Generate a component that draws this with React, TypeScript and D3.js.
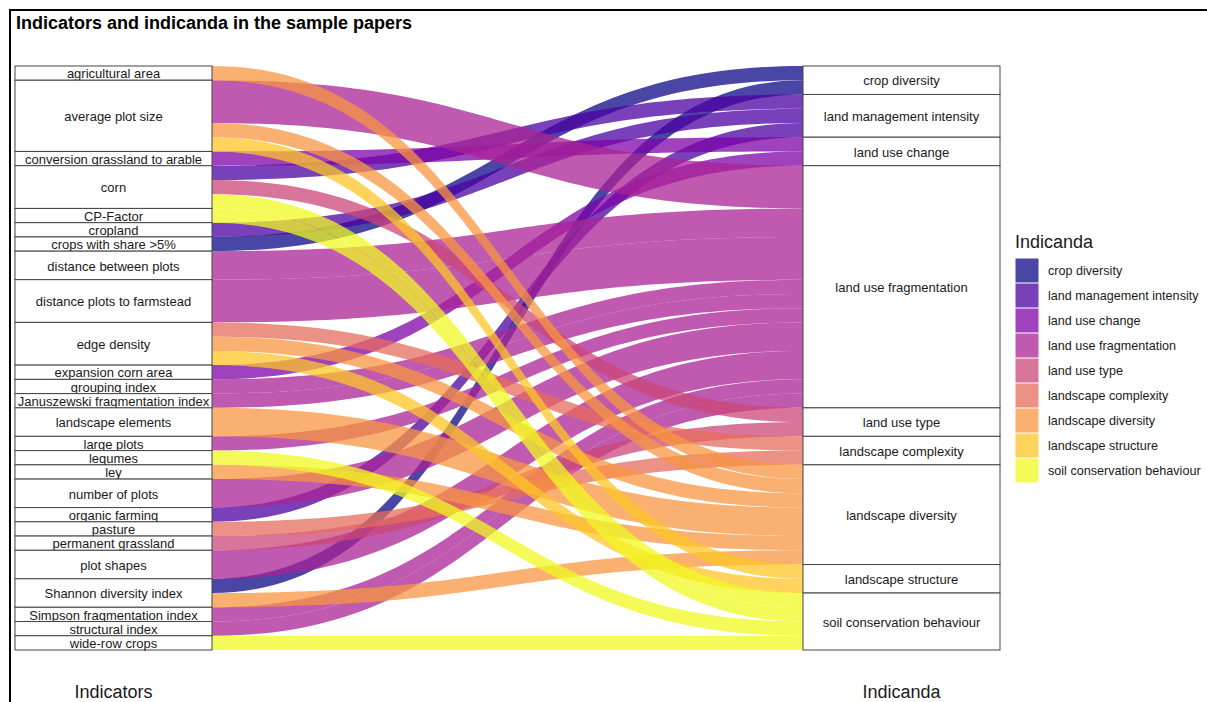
import React from "react";
import * as d3 from "d3";

const indicators = [
  "agricultural area",
  "average plot size",
  "conversion grassland to arable",
  "corn",
  "CP-Factor",
  "cropland",
  "crops with share >5%",
  "distance between plots",
  "distance plots to farmstead",
  "edge density",
  "expansion corn area",
  "grouping index",
  "Januszewski fragmentation index",
  "landscape elements",
  "large plots",
  "legumes",
  "ley",
  "number of plots",
  "organic farming",
  "pasture",
  "permanent grassland",
  "plot shapes",
  "Shannon diversity index",
  "Simpson fragmentation index",
  "structural index",
  "wide-row crops",
];

const indicanda = [
  "crop diversity",
  "land management intensity",
  "land use change",
  "land use fragmentation",
  "land use type",
  "landscape complexity",
  "landscape diversity",
  "landscape structure",
  "soil conservation behaviour",
];

const flowFrom = [
  "agricultural area",
  "average plot size",
  "average plot size",
  "average plot size",
  "conversion grassland to arable",
  "corn",
  "corn",
  "corn",
  "CP-Factor",
  "cropland",
  "crops with share >5%",
  "distance between plots",
  "distance plots to farmstead",
  "edge density",
  "edge density",
  "edge density",
  "expansion corn area",
  "grouping index",
  "Januszewski fragmentation index",
  "landscape elements",
  "large plots",
  "legumes",
  "ley",
  "number of plots",
  "organic farming",
  "pasture",
  "permanent grassland",
  "plot shapes",
  "Shannon diversity index",
  "Shannon diversity index",
  "Simpson fragmentation index",
  "structural index",
  "wide-row crops",
];

const flowTo = [
  "landscape diversity",
  "land use fragmentation",
  "landscape diversity",
  "landscape structure",
  "land use change",
  "land management intensity",
  "land use type",
  "soil conservation behaviour",
  "soil conservation behaviour",
  "land management intensity",
  "crop diversity",
  "land use fragmentation",
  "land use fragmentation",
  "landscape complexity",
  "landscape diversity",
  "landscape structure",
  "land use change",
  "land use fragmentation",
  "land use fragmentation",
  "landscape diversity",
  "land use fragmentation",
  "soil conservation behaviour",
  "landscape diversity",
  "land use fragmentation",
  "land management intensity",
  "landscape complexity",
  "land use type",
  "land use fragmentation",
  "crop diversity",
  "landscape diversity",
  "land use fragmentation",
  "land use fragmentation",
  "soil conservation behaviour",
];

const flowCount = [
  1, 3, 1, 1, 1, 1, 1, 1, 1, 1, 1, 2, 3, 1, 1, 1, 1, 1, 1, 2, 1, 1, 1, 2, 1, 1,
  1, 2, 1, 1, 1, 1, 1,
];

const FONT = "'Liberation Sans', Arial, Helvetica, sans-serif";

export default function App() {
  const W = 1207;
  const H = 702;
  const top = 66;
  const bottom = 650;
  const leftX0 = 15;
  const leftX1 = 212;
  const rightX0 = 803;
  const rightX1 = 1000;

  const flows = flowFrom.map((f, i) => ({
    from: f,
    to: flowTo[i],
    n: flowCount[i],
    fi: indicators.indexOf(f),
    ti: indicanda.indexOf(flowTo[i]),
  }));
  const total = d3.sum(flows, (d) => d.n);

  const y = d3.scaleLinear().domain([0, total]).range([top, bottom]);
  const color = d3
    .scaleOrdinal<string, string>()
    .domain(indicanda)
    .range(d3.quantize(d3.interpolatePlasma, indicanda.length));

  const leftTotals = indicators.map((name) =>
    d3.sum(flows.filter((f) => f.from === name), (f) => f.n)
  );
  const rightTotals = indicanda.map((name) =>
    d3.sum(flows.filter((f) => f.to === name), (f) => f.n)
  );
  const leftStart = d3.cumsum([0, ...leftTotals]);
  const rightStart = d3.cumsum([0, ...rightTotals]);

  const leftPos = new Map<any, number>();
  indicators.forEach((name, i) => {
    let acc = leftStart[i];
    flows
      .filter((f) => f.fi === i)
      .sort((a, b) => a.ti - b.ti)
      .forEach((f) => {
        leftPos.set(f, acc);
        acc += f.n;
      });
  });
  const rightPos = new Map<any, number>();
  indicanda.forEach((name, j) => {
    let acc = rightStart[j];
    flows
      .filter((f) => f.ti === j)
      .sort((a, b) => a.fi - b.fi)
      .forEach((f) => {
        rightPos.set(f, acc);
        acc += f.n;
      });
  });

  const drawOrder = flows.slice().sort((a, b) => a.ti - b.ti || a.fi - b.fi);
  const xm0 = leftX1 + (rightX0 - leftX1) * 0.5;
  const xm1 = rightX0 - (rightX0 - leftX1) * 0.5;

  const flowPath = (f: any) => {
    const a0 = y(leftPos.get(f)!);
    const a1 = y(leftPos.get(f)! + f.n);
    const b0 = y(rightPos.get(f)!);
    const b1 = y(rightPos.get(f)! + f.n);
    const p = d3.path();
    p.moveTo(leftX1, a0);
    p.bezierCurveTo(xm0, a0, xm1, b0, rightX0, b0);
    p.lineTo(rightX0, b1);
    p.bezierCurveTo(xm1, b1, xm0, a1, leftX1, a1);
    p.closePath();
    return p.toString();
  };

  const alpha = 0.75;

  return (
    <svg
      width={W}
      height={H}
      style={{ position: "absolute", left: 0, top: 0, background: "#fff" }}
      fontFamily={FONT}
    >
      <rect x={0} y={0} width={W} height={H} fill="#fff" />
      <rect
        x={10}
        y={10}
        width={W + 20}
        height={H + 20}
        fill="none"
        stroke="#000"
        strokeWidth={2}
      />
      <text x={16} y={29} fontSize={18} fontWeight="bold" fill="#000">
        Indicators and indicanda in the sample papers
      </text>

      <g>
        {drawOrder.map((f, i) => (
          <path
            key={i}
            d={flowPath(f)}
            fill={color(f.to)}
            fillOpacity={alpha}
            stroke="none"
          />
        ))}
      </g>

      <g>
        {indicators.map((name, i) => {
          const y0 = y(leftStart[i]);
          const y1 = y(leftStart[i] + leftTotals[i]);
          return (
            <g key={name}>
              <rect
                x={leftX0}
                y={y0}
                width={leftX1 - leftX0}
                height={y1 - y0}
                fill="#fff"
                stroke="#444"
                strokeWidth={1}
              />
              <text
                x={(leftX0 + leftX1) / 2}
                y={(y0 + y1) / 2}
                dy="0.4em"
                textAnchor="middle"
                fontSize={13}
                fill="#1a1a1a"
              >
                {name}
              </text>
            </g>
          );
        })}
      </g>

      <g>
        {indicanda.map((name, j) => {
          const y0 = y(rightStart[j]);
          const y1 = y(rightStart[j] + rightTotals[j]);
          return (
            <g key={name}>
              <rect
                x={rightX0}
                y={y0}
                width={rightX1 - rightX0}
                height={y1 - y0}
                fill="#fff"
                stroke="#444"
                strokeWidth={1}
              />
              <text
                x={(rightX0 + rightX1) / 2}
                y={(y0 + y1) / 2}
                dy="0.4em"
                textAnchor="middle"
                fontSize={13}
                fill="#1a1a1a"
              >
                {name}
              </text>
            </g>
          );
        })}
      </g>

      <text
        x={(leftX0 + leftX1) / 2}
        y={698}
        textAnchor="middle"
        fontSize={18}
        fill="#1a1a1a"
      >
        Indicators
      </text>
      <text
        x={(rightX0 + rightX1) / 2}
        y={698}
        textAnchor="middle"
        fontSize={18}
        fill="#1a1a1a"
      >
        Indicanda
      </text>

      <g transform="translate(1015,0)">
        <text x={0} y={248} fontSize={18} fill="#1a1a1a">
          Indicanda
        </text>
        {indicanda.map((name, j) => (
          <g key={name} transform={`translate(0,${258 + j * 25})`}>
            <rect x={0} y={0} width={24} height={24} fill="#fff" />
            <rect
              x={0.5}
              y={0.5}
              width={23}
              height={24}
              fill={color(name)}
              fillOpacity={alpha}
            />
            <text x={33} y={12.5} dy="0.36em" fontSize={12.6} fill="#1a1a1a">
              {name}
            </text>
          </g>
        ))}
      </g>
    </svg>
  );
}
